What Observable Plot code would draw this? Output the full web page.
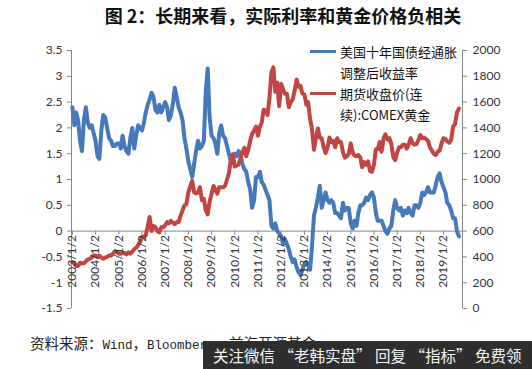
<!DOCTYPE html>
<html><head><meta charset="utf-8">
<script src="https://cdn.jsdelivr.net/npm/d3@7"></script>
<script src="https://cdn.jsdelivr.net/npm/@observablehq/plot@0.6"></script>
<style>
body{margin:0;background:#fff;width:532px;height:369px;overflow:hidden;position:relative;font-family:"Noto Sans CJK SC",sans-serif;}
#title{position:absolute;left:0;top:4px;width:532px;text-align:center;padding-left:34px;box-sizing:border-box;font-size:18px;line-height:22px;font-weight:bold;color:#111;}
#chart{position:absolute;left:0;top:32px;}
#legend{position:absolute;left:306px;top:41px;width:152px;font-size:13px;line-height:21px;color:#111;}
#legend .row{position:relative;padding-left:34px;}
#legend .sw{position:absolute;left:4px;top:9px;width:26px;height:3px;}
#caption{position:absolute;left:30px;top:333px;font-size:14.5px;line-height:20px;color:#222;}
#caption .lat{font-family:"Liberation Mono",monospace;font-size:12.5px;}
#wm{position:absolute;left:203px;top:341px;width:329px;height:28px;background:#2e2e2e;color:#f4f4f4;font-size:15.5px;line-height:28px;padding-left:10px;box-sizing:border-box;white-space:nowrap;}
</style></head>
<body>
<div id="title">图 2：长期来看，实际利率和黄金价格负相关</div>
<div id="chart"></div>
<div id="legend">
  <div class="row"><span class="sw" style="background:#4678bc"></span>美国十年国债经通胀<br>调整后收益率</div>
  <div class="row"><span class="sw" style="background:#c24543"></span>期货收盘价(连<br>续):COMEX黄金</div>
</div>
<div id="caption">资料来源：<span class="lat">Wind</span>，<span class="lat">Bloomberg</span>，前海开源基金</div>
<div id="wm">关注微信 “老韩实盘” 回复 “指标” 免费领</div>
<script>
// 美国十年国债经通胀调整后收益率 (%), monthly from 2003-01
const realYield = [
  2.4, 2.05, 2.3, 2.15, 1.75, 1.55, 2.15, 2.4, 2.1, 2.0, 2.05, 1.9,
  1.75, 1.45, 1.4, 1.95, 2.25, 2.2, 2.0, 1.8, 1.75, 1.65, 1.65, 1.7,
  1.7, 1.6, 1.85, 1.65, 1.55, 1.5, 1.8, 2.0, 1.6, 1.85, 2.05, 2.0,
  1.95, 2.1, 2.3, 2.45, 2.55, 2.68, 2.6, 2.35, 2.3, 2.45, 2.3, 2.4,
  2.5, 2.4, 2.15, 2.25, 2.45, 2.78, 2.6, 2.4, 2.3, 2.15, 1.8, 1.6,
  1.35, 1.2, 1.05, 1.3, 1.55, 1.75, 1.6, 1.65, 1.75, 2.7, 3.15, 2.2,
  1.85, 1.8, 1.7, 1.5, 1.9, 2.05, 1.85, 1.8, 1.65, 1.5, 1.35, 1.45,
  1.5, 1.45, 1.55, 1.5, 1.3, 1.2, 1.15, 0.95, 0.8, 0.45, 0.6, 1.05,
  1.05, 1.15, 0.95, 0.9, 0.8, 0.7, 0.6, 0.1, 0.05, 0.15, 0.0, -0.05,
  -0.1, -0.25, -0.15, -0.25, -0.35, -0.5, -0.6, -0.55, -0.7, -0.8, -0.85, -0.75,
  -0.65, -0.6, -0.65, -0.75, -0.3, 0.3, 0.45, 0.65, 0.88, 0.45, 0.6, 0.75,
  0.6, 0.55, 0.6, 0.55, 0.35, 0.35, 0.3, 0.25, 0.55, 0.4, 0.45, 0.45,
  0.15, 0.05, 0.2, 0.1, 0.35, 0.5, 0.5, 0.55, 0.65, 0.6, 0.7, 0.75,
  0.65, 0.35, 0.2, 0.2, 0.2, 0.1, 0.0, -0.05, 0.05, 0.1, 0.4, 0.6,
  0.45, 0.4, 0.45, 0.3, 0.4, 0.35, 0.45, 0.35, 0.3, 0.5, 0.5, 0.45,
  0.55, 0.75, 0.7, 0.75, 0.85, 0.75, 0.75, 0.75, 0.9, 1.05, 1.12, 0.95,
  0.85, 0.75, 0.55, 0.5, 0.4, 0.25, 0.25, 0.0, -0.1
];
// 期货收盘价(连续):COMEX黄金 (USD/oz), monthly from 2003-01
const goldPrice = [
  360, 350, 330, 330, 355, 350, 350, 365, 380, 385, 395, 410,
  410, 400, 410, 395, 385, 395, 400, 410, 410, 425, 445, 440,
  425, 425, 430, 430, 420, 435, 425, 440, 460, 470, 490, 515,
  555, 555, 570, 635, 710, 600, 640, 630, 600, 590, 630, 630,
  645, 670, 660, 680, 665, 655, 670, 670, 720, 760, 800, 810,
  900, 950, 990, 900, 890, 900, 940, 840, 850, 760, 730, 830,
  890, 950, 920, 890, 940, 940, 940, 950, 1000, 1050, 1150, 1195,
  1100, 1110, 1115, 1165, 1210, 1245, 1180, 1230, 1300, 1355, 1380, 1410,
  1340, 1410, 1440, 1540, 1535, 1500, 1630, 1830, 1870, 1680, 1750, 1570,
  1740, 1700, 1665, 1665, 1560, 1600, 1620, 1690, 1775, 1720, 1725, 1665,
  1660, 1580, 1600, 1470, 1390, 1230, 1320, 1395, 1325, 1320, 1250, 1205,
  1250, 1325, 1290, 1300, 1250, 1320, 1290, 1290, 1210, 1170, 1180, 1200,
  1280, 1210, 1185, 1180, 1190, 1170, 1095, 1135, 1115, 1140, 1065, 1060,
  1115, 1235, 1235, 1290, 1215, 1320, 1350, 1310, 1320, 1275, 1175, 1150,
  1210, 1250, 1250, 1270, 1270, 1240, 1270, 1320, 1280, 1270, 1275, 1305,
  1345, 1320, 1325, 1315, 1300, 1250, 1225, 1200, 1190, 1215, 1225, 1280,
  1320, 1315, 1295, 1285, 1305, 1410, 1430, 1520, 1550
];
const xTickLabels = ["2003/1/2","2004/1/2","2005/1/2","2006/1/2","2007/1/2","2008/1/2","2009/1/2","2010/1/2","2011/1/2","2012/1/2","2013/1/2","2014/1/2","2015/1/2","2016/1/2","2017/1/2","2018/1/2","2019/1/2"];
const leftTicks = [3.5, 3, 2.5, 2, 1.5, 1, 0.5, 0, -0.5, -1, -1.5];
const rightTicks = [2000, 1800, 1600, 1400, 1200, 1000, 800, 600, 400, 200, 0];

const blue = "#4678bc", red = "#c24543", axisGray = "#868686";
const parseTick = d3.timeParse("%Y/%m/%d");
const tickDates = xTickLabels.map(s => parseTick(s.replace(/\/(\d)\//, "/0$1/").replace(/\/(\d)$/, "/0$1")));
const yieldData = realYield.map((v, i) => ({date: new Date(2003, i, 1), v}));
const goldData = goldPrice.map((v, i) => ({date: new Date(2003, i, 1), v}));
// right axis (gold 0..2000) shares the left frame (-1.5..3.5)
const goldToLeft = g => -1.5 + g * 5 / 2000;
const xDomain = [new Date(2002, 11, 18), new Date(2019, 9, 27)];

const chart = Plot.plot({
  width: 532, height: 300,
  marginLeft: 71, marginRight: 70, marginTop: 18, marginBottom: 24,
  x: {type: "time", domain: xDomain, axis: null},
  y: {domain: [-1.5, 3.5], axis: null},
  style: {fontFamily: "Lato, 'Open Sans', sans-serif", fontSize: "12px", color: "#333", background: "transparent"},
  marks: [
    Plot.ruleX([xDomain[0]], {stroke: axisGray}),
    Plot.ruleX([xDomain[1]], {stroke: axisGray}),
    Plot.axisY(leftTicks, {anchor: "left", tickSize: 4, tickPadding: 5, label: null, stroke: axisGray, fill: "#333", tickFormat: d => String(d)}),
    Plot.axisY(rightTicks.map(goldToLeft), {anchor: "right", tickSize: 4, tickPadding: 6, label: null, stroke: axisGray, fill: "#333",
      tickFormat: v => String(Math.round((v + 1.5) * 400))}),
    Plot.ruleY([0], {stroke: axisGray}),
    Plot.ruleX(tickDates, {x: d => d, y1: 0, y2: -0.08, stroke: axisGray}),
    Plot.line(yieldData, {x: "date", y: "v", stroke: blue, strokeWidth: 4, strokeLinejoin: "round"}),
    Plot.line(goldData, {x: "date", y: d => goldToLeft(d.v), stroke: red, strokeWidth: 4, strokeLinejoin: "round"}),
    Plot.text(tickDates, {x: d => d, y: 0, text: (d, i) => xTickLabels[i], rotate: -90, textAnchor: "end", dy: 4, fill: "#333", fontSize: 12})
  ]
});
document.getElementById("chart").appendChild(chart);
</script>
</body></html>
